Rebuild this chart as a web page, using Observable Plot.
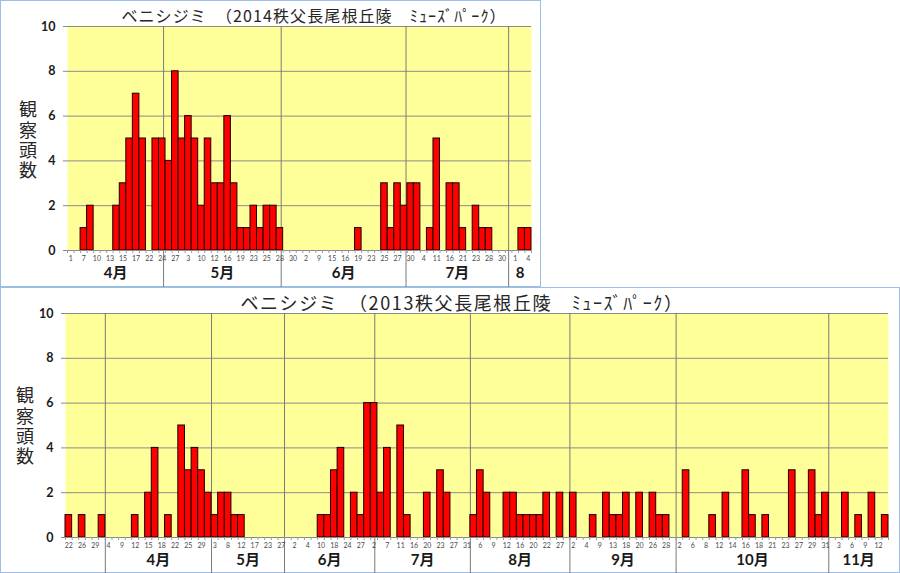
<!DOCTYPE html>
<html>
<head>
<meta charset="utf-8">
<script src="https://cdn.jsdelivr.net/npm/d3@7"></script>
<script src="https://cdn.jsdelivr.net/npm/@observablehq/plot@0.6"></script>
<style>
  body { margin: 0; background: #fff; }
  #root { position: relative; width: 900px; height: 573px; overflow: hidden; background: #fff; }
  .panel { position: absolute; box-sizing: border-box; border: 1px solid #9cbde6; }
  .chart { position: absolute; left: 0; }
  .title {
    position: absolute; transform: translate(-50%, -50%); white-space: nowrap;
    font-family: "Noto Sans CJK JP", sans-serif; color: #262626;
  }
  .ytitle {
    position: absolute; transform: translate(-50%, -50%); writing-mode: vertical-rl;
    font-family: "Noto Sans CJK JP", sans-serif; font-size: 18px; letter-spacing: 2.3px;
    line-height: 1; color: #262626; white-space: nowrap;
  }
</style>
</head>
<body>
<div id="root"></div>
<script>
// ---- 2014 season: one bar per survey day (labels shown on every other day) ----
const days2014 = ["1","7","10","13","15","17","22","24","27","3","10","12","16","19","23","25","28","30",
  "2","9","15","16","19","23","25","27","30","4","11","16","21","23","28","30","1","4"];
const counts2014 = [
  0,0,1,2,0,0,0,2,3,5,
  7,5,0,5,5,4,8,5,6,5,
  2,5,3,3,6,3,1,1,2,1,
  2,2,1,0,0,0,0,0,0,0,
  0,0,0,0,1,0,0,0,3,1,
  3,2,3,3,0,1,5,0,3,3,
  1,0,2,1,1,0,0,0,0,1,
  1];
const months2014 = ["4月","5月","6月","7月","8"];
const monthBreaks2014 = [14.7, 32.7, 51.8, 67.5];

// ---- 2013 season ----
const days2013 = ["22","26","29","4","9","12","15","18","22","25","29","3","8","12","17","23","27",
  "2","4","10","18","24","27","2","7","11","16","20","23","27","31","6","9","12","16","20","22","27",
  "2","4","9","13","18","20","26","28","2","6","8","12","14","16","18","21","23","27","29","31",
  "3","6","9","12"];
const counts2013 = [
  1,0,1,0,0,1,0,0,0,0,
  1,0,2,4,0,1,0,5,3,4,
  3,2,1,2,2,1,1,0,0,0,
  0,0,0,0,0,0,0,0,1,1,
  3,4,0,2,1,6,6,2,4,0,
  5,1,0,0,2,0,3,2,0,0,
  0,1,3,2,0,0,2,2,1,1,
  1,1,2,0,2,0,2,0,0,1,
  0,2,1,1,2,0,2,0,2,1,
  1,0,0,3,0,0,0,1,0,2,
  0,0,3,1,0,1,0,0,0,3,
  0,0,3,1,2,0,0,2,0,1,
  0,2,0,1];
const months2013 = ["","4月","5月","6月","7月","8月","9月","10月","11月"];
const monthBreaks2013 = [6, 22, 33, 46.6, 61, 76, 92, 115];

const yTicks = [0, 2, 4, 6, 8, 10];
const yTitle = "観察頭数";

function seasonChart({counts, days, months, breaks, width, height, margins}) {
  const [mt, mr, mb, ml] = margins;
  const n = counts.length;
  const bars = counts.map((v, i) => ({i, v})).filter(d => d.v > 0);
  const dayTicks = days.map((label, k) => ({pos: 2 * k + 0.5, label}));
  const edges = [0, ...breaks, n];
  const spans = months.map((m, k) => ({mid: (edges[k] + edges[k + 1]) / 2, m})).filter(d => d.m);
  return Plot.plot({
    width, height,
    marginTop: mt, marginRight: mr, marginBottom: mb, marginLeft: ml,
    style: {background: "transparent", fontFamily: "Lato, 'Noto Sans CJK JP', sans-serif", overflow: "visible"},
    x: {domain: [0, n], axis: null},
    y: {domain: [0, 10]},
    marks: [
      Plot.frame({fill: "#FFFF99", stroke: null}),
      Plot.ruleY([2, 4, 6, 8, 10], {stroke: "#8a8a8a", strokeWidth: 1}),
      Plot.ruleX(breaks, {stroke: "#7a7a7a", strokeWidth: 1, insetBottom: -mb}),
      Plot.rectY(bars, {x1: "i", x2: d => d.i + 1, y: "v", fill: "#FF0000", stroke: "#1a0000", strokeWidth: 1}),
      Plot.ruleY([0], {stroke: "#8a8a8a", strokeWidth: 1}),
      Plot.ruleX(d3.range(n + 1), {x: d => d, y1: 0, y2: 0, insetBottom: -3, stroke: "#9a9a9a", strokeWidth: 1}),
      Plot.axisY({ticks: yTicks, tickSize: 4, tickPadding: 8, label: null, stroke: "#8a8a8a",
        fill: "#1a1a1a", fontSize: 12.5, fontWeight: "bold"}),
      Plot.text(dayTicks, {x: "pos", text: "label", frameAnchor: "bottom", dy: 10, fontSize: 7, fill: "#4a4a4a"}),
      Plot.text(spans, {x: "mid", text: "m", frameAnchor: "bottom", dy: 27, fontSize: 15, fontWeight: "bold", fill: "#1a1a1a"})
    ]
  });
}

const root = document.getElementById("root");

function addPanel(left, top, w, h) {
  const p = document.createElement("div");
  p.className = "panel";
  Object.assign(p.style, {left: left + "px", top: top + "px", width: w + "px", height: h + "px"});
  root.appendChild(p);
}
function addText(cls, text, cx, cy, extra) {
  const t = document.createElement("div");
  t.className = cls;
  t.textContent = text;
  Object.assign(t.style, {left: cx + "px", top: cy + "px"}, extra || {});
  root.appendChild(t);
}
function addChart(svg, top) {
  svg.classList.add("chart");
  svg.style.top = top + "px";
  root.appendChild(svg);
}

addPanel(0, 0, 541, 287);
addPanel(0, 287, 900, 286);

addChart(seasonChart({counts: counts2014, days: days2014, months: months2014, breaks: monthBreaks2014,
  width: 541, height: 287, margins: [26, 10, 37, 67]}), 0);
addChart(seasonChart({counts: counts2013, days: days2013, months: months2013, breaks: monthBreaks2013,
  width: 900, height: 286, margins: [26, 12, 36, 65]}), 287);

addText("title", "ベニシジミ　（2014秩父長尾根丘陵　ﾐｭｰｽﾞﾊﾟｰｸ）", 314, 15, {fontSize: "16px", letterSpacing: "1.1px"});
addText("title", "ベニシジミ　（2013秩父長尾根丘陵　ﾐｭｰｽﾞﾊﾟｰｸ）", 462, 302, {fontSize: "18px", letterSpacing: "1.6px"});
addText("ytitle", yTitle, 28, 141);
addText("ytitle", yTitle, 25, 427);
</script>
</body>
</html>
